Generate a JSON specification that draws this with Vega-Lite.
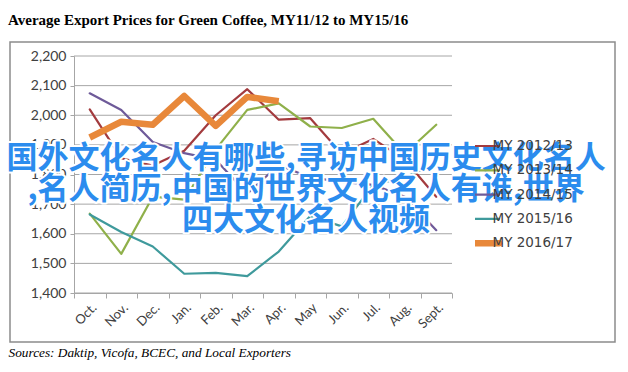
{
  "$schema": "https://vega.github.io/schema/vega-lite/v6.json",
  "width": 605,
  "height": 300,
  "autosize": {"type": "none"},
  "padding": {"left": 10, "top": 42, "right": 13, "bottom": 30},
  "background": "white",
  "config": {"view": {"stroke": "#8c8c8c", "strokeWidth": 1.5}},
  "title": {
    "text": "Average Export Prices for Green Coffee, MY11/12 to MY15/16",
    "anchor": "start",
    "frame": "group",
    "font": "Liberation Serif",
    "fontSize": 15,
    "fontWeight": "bold",
    "color": "black",
    "offset": 2.5,
    "baseline": "alphabetic",
    "dx": -2
  },
  "datasets": {
    "prices": [
      {"series": "MY 2012/13", "month": "Oct.", "value": 2020},
      {"series": "MY 2012/13", "month": "Nov.", "value": 1855},
      {"series": "MY 2012/13", "month": "Dec.", "value": 1830},
      {"series": "MY 2012/13", "month": "Jan.", "value": 1880},
      {"series": "MY 2012/13", "month": "Feb.", "value": 2000},
      {"series": "MY 2012/13", "month": "Mar.", "value": 2088},
      {"series": "MY 2012/13", "month": "Apr.", "value": 1985},
      {"series": "MY 2012/13", "month": "May", "value": 1990},
      {"series": "MY 2012/13", "month": "Jun.", "value": 1870},
      {"series": "MY 2012/13", "month": "Jul.", "value": 1920},
      {"series": "MY 2012/13", "month": "Aug.", "value": 1850},
      {"series": "MY 2012/13", "month": "Sept.", "value": 1725},
      {"series": "MY 2013/14", "month": "Oct.", "value": 1668},
      {"series": "MY 2013/14", "month": "Nov.", "value": 1532},
      {"series": "MY 2013/14", "month": "Dec.", "value": 1725},
      {"series": "MY 2013/14", "month": "Jan.", "value": 1715},
      {"series": "MY 2013/14", "month": "Feb.", "value": 1885},
      {"series": "MY 2013/14", "month": "Mar.", "value": 2018},
      {"series": "MY 2013/14", "month": "Apr.", "value": 2040},
      {"series": "MY 2013/14", "month": "May", "value": 1962},
      {"series": "MY 2013/14", "month": "Jun.", "value": 1957},
      {"series": "MY 2013/14", "month": "Jul.", "value": 1988},
      {"series": "MY 2013/14", "month": "Aug.", "value": 1870},
      {"series": "MY 2013/14", "month": "Sept.", "value": 1968},
      {"series": "MY 2014/15", "month": "Oct.", "value": 2074},
      {"series": "MY 2014/15", "month": "Nov.", "value": 2018},
      {"series": "MY 2014/15", "month": "Dec.", "value": 1910},
      {"series": "MY 2014/15", "month": "Jan.", "value": 1872},
      {"series": "MY 2014/15", "month": "Feb.", "value": 1850},
      {"series": "MY 2014/15", "month": "Mar.", "value": 1735},
      {"series": "MY 2014/15", "month": "Apr.", "value": 1832},
      {"series": "MY 2014/15", "month": "May", "value": 1790},
      {"series": "MY 2014/15", "month": "Jun.", "value": 1775},
      {"series": "MY 2014/15", "month": "Jul.", "value": 1765},
      {"series": "MY 2014/15", "month": "Aug.", "value": 1725},
      {"series": "MY 2014/15", "month": "Sept.", "value": 1612},
      {"series": "MY 2015/16", "month": "Oct.", "value": 1665},
      {"series": "MY 2015/16", "month": "Nov.", "value": 1606},
      {"series": "MY 2015/16", "month": "Dec.", "value": 1557},
      {"series": "MY 2015/16", "month": "Jan.", "value": 1465},
      {"series": "MY 2015/16", "month": "Feb.", "value": 1468},
      {"series": "MY 2015/16", "month": "Mar.", "value": 1457},
      {"series": "MY 2015/16", "month": "Apr.", "value": 1540},
      {"series": "MY 2015/16", "month": "May", "value": 1660},
      {"series": "MY 2015/16", "month": "Jun.", "value": 1625},
      {"series": "MY 2015/16", "month": "Jul.", "value": 1765},
      {"series": "MY 2015/16", "month": "Aug.", "value": 1790},
      {"series": "MY 2015/16", "month": "Sept.", "value": 1840},
      {"series": "MY 2016/17", "month": "Oct.", "value": 1925},
      {"series": "MY 2016/17", "month": "Nov.", "value": 1978},
      {"series": "MY 2016/17", "month": "Dec.", "value": 1968},
      {"series": "MY 2016/17", "month": "Jan.", "value": 2065},
      {"series": "MY 2016/17", "month": "Feb.", "value": 1964},
      {"series": "MY 2016/17", "month": "Mar.", "value": 2062},
      {"series": "MY 2016/17", "month": "Apr.", "value": 2047}
    ],
    "grid": [
      {"value": 1400}, {"value": 1500}, {"value": 1600}, {"value": 1700}, {"value": 1800},
      {"value": 1900}, {"value": 2000}, {"value": 2100}, {"value": 2200}
    ]
  },
  "layer": [
    {
      "data": {"name": "grid"},
      "mark": {"type": "rule", "color": "#a6a6a6", "strokeWidth": 1},
      "encoding": {
        "x": {"datum": 0, "type": "quantitative", "scale": {"domain": [0, 1], "range": [64, 442]}, "axis": null},
        "x2": {"datum": 1},
        "y": {
          "field": "value",
          "type": "quantitative",
          "scale": {"domain": [1400, 2200], "range": [251, 14], "nice": false, "zero": false},
          "axis": null
        }
      }
    },
    {
      "data": {"name": "prices"},
      "transform": [{"filter": "datum.series !== 'MY 2016/17'"}],
      "mark": {"type": "line", "strokeWidth": 2.2, "strokeJoin": "round", "strokeCap": "round"},
      "encoding": {
        "x": {
          "field": "month",
          "type": "nominal",
          "sort": ["Oct.", "Nov.", "Dec.", "Jan.", "Feb.", "Mar.", "Apr.", "May", "Jun.", "Jul.", "Aug.", "Sept."],
          "scale": {
            "type": "band",
            "domain": ["Oct.", "Nov.", "Dec.", "Jan.", "Feb.", "Mar.", "Apr.", "May", "Jun.", "Jul.", "Aug.", "Sept."],
            "range": [64, 442], "paddingInner": 0, "paddingOuter": 0
          },
          "axis": {
            "title": "Sources: Daktip, Vicofa, BCEC, and Local Exporters",
            "titleFont": "Liberation Serif",
            "titleFontStyle": "italic",
            "titleFontWeight": "normal",
            "titleFontSize": 13.3,
            "titleColor": "black",
            "titleX": -2,
            "titleY": 59,
            "titleAlign": "left",
            "titleBaseline": "middle",
            "titleAngle": 0,
            "offset": -49,
            "labelAngle": -45,
            "labelFont": "Lato",
            "labelFontSize": 13,
            "labelColor": "#404040",
            "labelPadding": 3,
            "tickBand": "extent",
            "ticks": true,
            "tickSize": 5,
            "tickColor": "#a6a6a6",
            "domainColor": "#a6a6a6",
            "grid": false
          }
        },
        "y": {
          "field": "value",
          "type": "quantitative",
          "scale": {"domain": [1400, 2200], "range": [251, 14], "nice": false, "zero": false},
          "axis": {
            "title": null,
            "offset": -64,
            "format": ",d",
            "values": [1400, 1500, 1600, 1700, 1800, 1900, 2000, 2100, 2200],
            "grid": false,
            "labelFont": "Lato",
            "labelFontSize": 14,
            "labelColor": "#404040",
            "labelPadding": 4,
            "tickSize": 4,
            "tickColor": "#a6a6a6",
            "domainColor": "#a6a6a6"
          }
        },
        "color": {
          "field": "series",
          "type": "nominal",
          "scale": {
            "domain": ["MY 2012/13", "MY 2013/14", "MY 2014/15", "MY 2015/16", "MY 2016/17"],
            "range": ["#a33b3e", "#8fb04a", "#6e5a99", "#3f9a9c", "#e8883a"]
          },
          "legend": {
            "orient": "none",
            "legendX": 465,
            "legendY": 93,
            "title": null,
            "symbolType": "stroke",
            "symbolSize": 1200,
            "labelFont": "DejaVu Sans",
            "labelFontSize": 13.5,
            "labelColor": "#404040",
            "clipHeight": 22,
            "rowPadding": 2.3,
            "labelOffset": 4,
            "encode": {
              "symbols": {
                "update": {
                  "strokeWidth": {"signal": "datum.value === 'MY 2016/17' ? 6.5 : 2.2"},
                  "strokeCap": {"value": "round"}
                }
              }
            }
          }
        }
      }
    },
    {
      "data": {"name": "prices"},
      "transform": [{"filter": "datum.series === 'MY 2016/17'"}],
      "mark": {"type": "line", "strokeWidth": 6.5, "strokeJoin": "round", "strokeCap": "butt"},
      "encoding": {
        "x": {
          "field": "month",
          "type": "nominal",
          "sort": ["Oct.", "Nov.", "Dec.", "Jan.", "Feb.", "Mar.", "Apr.", "May", "Jun.", "Jul.", "Aug.", "Sept."],
          "scale": {
            "type": "band",
            "domain": ["Oct.", "Nov.", "Dec.", "Jan.", "Feb.", "Mar.", "Apr.", "May", "Jun.", "Jul.", "Aug.", "Sept."],
            "range": [64, 442], "paddingInner": 0, "paddingOuter": 0
          },
          "axis": null
        },
        "y": {
          "field": "value",
          "type": "quantitative",
          "scale": {"domain": [1400, 2200], "range": [251, 14], "nice": false, "zero": false},
          "axis": null
        },
        "color": {"field": "series", "type": "nominal"}
      }
    },
    {
      "data": {"values": [{}]},
      "mark": {
        "type": "text",
        "font": "Noto Sans CJK SC",
        "fontWeight": "bold",
        "fontSize": 31,
        "lineHeight": 31,
        "align": "center",
        "baseline": "middle",
        "fill": "white",
        "stroke": "white",
        "strokeWidth": 4,
        "strokeJoin": "round"
      },
      "encoding": {
        "text": {"value": ["国外文化名人有哪些,寻访中国历史文化名人", ",名人简历,中国的世界文化名人有谁,世界", "四大文化名人视频"]},
        "x": {"datum": 0.614, "type": "quantitative", "scale": {"domain": [0, 1], "range": [64, 442]}, "axis": null},
        "y": {"datum": 0.5, "type": "quantitative", "scale": {"domain": [0, 1], "range": [233, 0]}, "axis": null}
      }
    },
    {
      "data": {"values": [{}]},
      "mark": {
        "type": "text",
        "font": "Noto Sans CJK SC",
        "fontWeight": "bold",
        "fontSize": 31,
        "lineHeight": 31,
        "align": "center",
        "baseline": "middle",
        "fill": "#2b8cee"
      },
      "encoding": {
        "text": {"value": ["国外文化名人有哪些,寻访中国历史文化名人", ",名人简历,中国的世界文化名人有谁,世界", "四大文化名人视频"]},
        "x": {"datum": 0.614, "type": "quantitative", "scale": {"domain": [0, 1], "range": [64, 442]}, "axis": null},
        "y": {"datum": 0.5, "type": "quantitative", "scale": {"domain": [0, 1], "range": [233, 0]}, "axis": null}
      }
    }
  ],
  "resolve": {"scale": {"x": "independent", "y": "independent"}, "axis": {"x": "independent", "y": "independent"}}
}
